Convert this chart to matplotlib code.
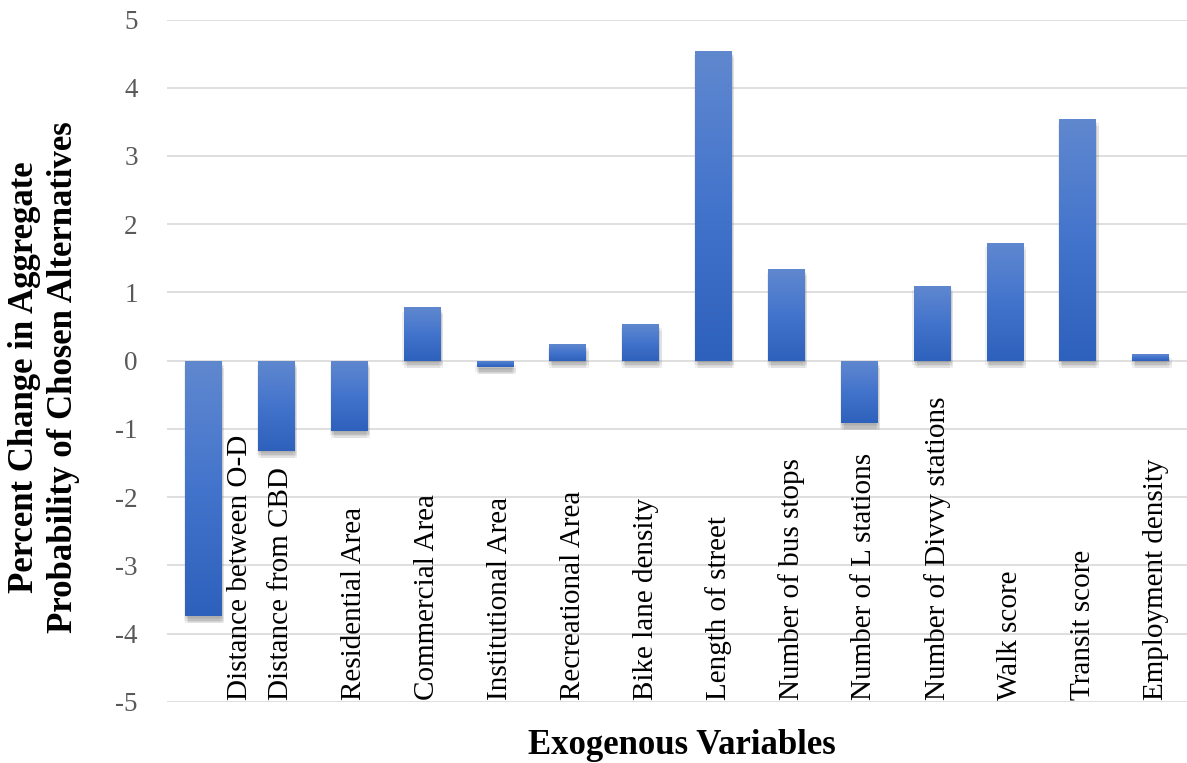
"""
Percent change in aggregate probability of chosen alternatives by exogenous variable
"""
import numpy as np
import matplotlib
matplotlib.use("Agg")
import matplotlib.pyplot as plt
import matplotlib.patheffects as pe
from matplotlib.colors import LinearSegmentedColormap

VARIABLES = ["Distance between O-D", "Distance from CBD", "Residential Area",
             "Commercial Area", "Institutional Area", "Recreational Area",
             "Bike lane density", "Length of street", "Number of bus stops",
             "Number of L stations", "Number of Divvy stations", "Walk score",
             "Transit score", "Employment density"]
PERCENT_CHANGE = [-3.75, -1.32, -1.03, 0.78, -0.10, 0.24, 0.54,
                  4.54, 1.34, -0.92, 1.10, 1.73, 3.54, 0.10]
Y_TICKS = [-5, -4, -3, -2, -1, 0, 1, 2, 3, 4, 5]
Y_TICK_LABELS = ["-5", "-4", "-3", "-2", "-1", "0", "1", "2", "3", "4", "5"]

SERIF = ["Liberation Serif", "DejaVu Serif"]
plt.rcParams["font.family"] = SERIF

fig = plt.figure(figsize=(11.87, 7.63), dpi=100)
ax = fig.add_axes([167 / 1187, 0.0803, 1 - 167 / 1187, 0.8941])

x = np.arange(len(VARIABLES))
BAR_WIDTH = 0.5

# soft shadow under each bar, then a vertical blue gradient clipped to the bar
shadow = [pe.SimplePatchShadow(offset=(dx, -dy), shadow_rgbFace="#6a6a6a", alpha=0.1)
          for dx, dy in ((0, 1), (1, 2), (2, 3), (1, 4), (0, 5), (2, 5), (-1, 3))]
bars = ax.bar(x, PERCENT_CHANGE, width=BAR_WIDTH, color="#4474CC", zorder=3,
              path_effects=shadow + [pe.Normal()])

cmap = LinearSegmentedColormap.from_list("bar_blue", ["#2E61BC", "#4374CC", "#6088CF"])
grad = np.linspace(0, 1, 256).reshape(-1, 1)
for bar in bars:
    bx, by = bar.get_x(), bar.get_y()
    bw, bh = bar.get_width(), bar.get_height()
    lo, hi = min(by, by + bh), max(by, by + bh)
    im = ax.imshow(grad, cmap=cmap, origin="lower", aspect="auto",
                   extent=[bx, bx + bw, lo, hi], zorder=4)
    im.set_clip_path(bar)

ax.set_xlim(-0.5, len(VARIABLES) - 0.5)
ax.set_ylim(-5, 5)
ax.set_yticks(Y_TICKS)
ax.set_yticklabels(Y_TICK_LABELS)
ax.set_xticks([])
ax.tick_params(axis="y", length=0, pad=21, labelsize=19.5, labelcolor="#595959")
ax.grid(axis="y", color="#D9D9D9", linewidth=1.2, zorder=0)
ax.set_axisbelow(True)
for spine in ax.spines.values():
    spine.set_visible(False)

# category names stand upright inside the plot, resting on the bottom gridline
label_shift = [0.5] + [0.07] * (len(VARIABLES) - 1)
for xi, name, dx in zip(x, VARIABLES, label_shift):
    ax.text(xi + dx, -4.98, name, rotation=90, ha="center", va="bottom",
            fontsize=21, color="black", zorder=5)

fig.text(682 / 1187, 0.012, "Exogenous Variables", ha="center", va="baseline",
         fontsize=25, fontweight="bold")
fig.text(44 / 1187, 0.506,
         "Percent Change in Aggregate\nProbability of Chosen Alternatives",
         rotation=90, ha="center", va="center", multialignment="center",
         fontsize=25, fontweight="bold", linespacing=1.25)

fig.savefig("out.png", dpi=100)
